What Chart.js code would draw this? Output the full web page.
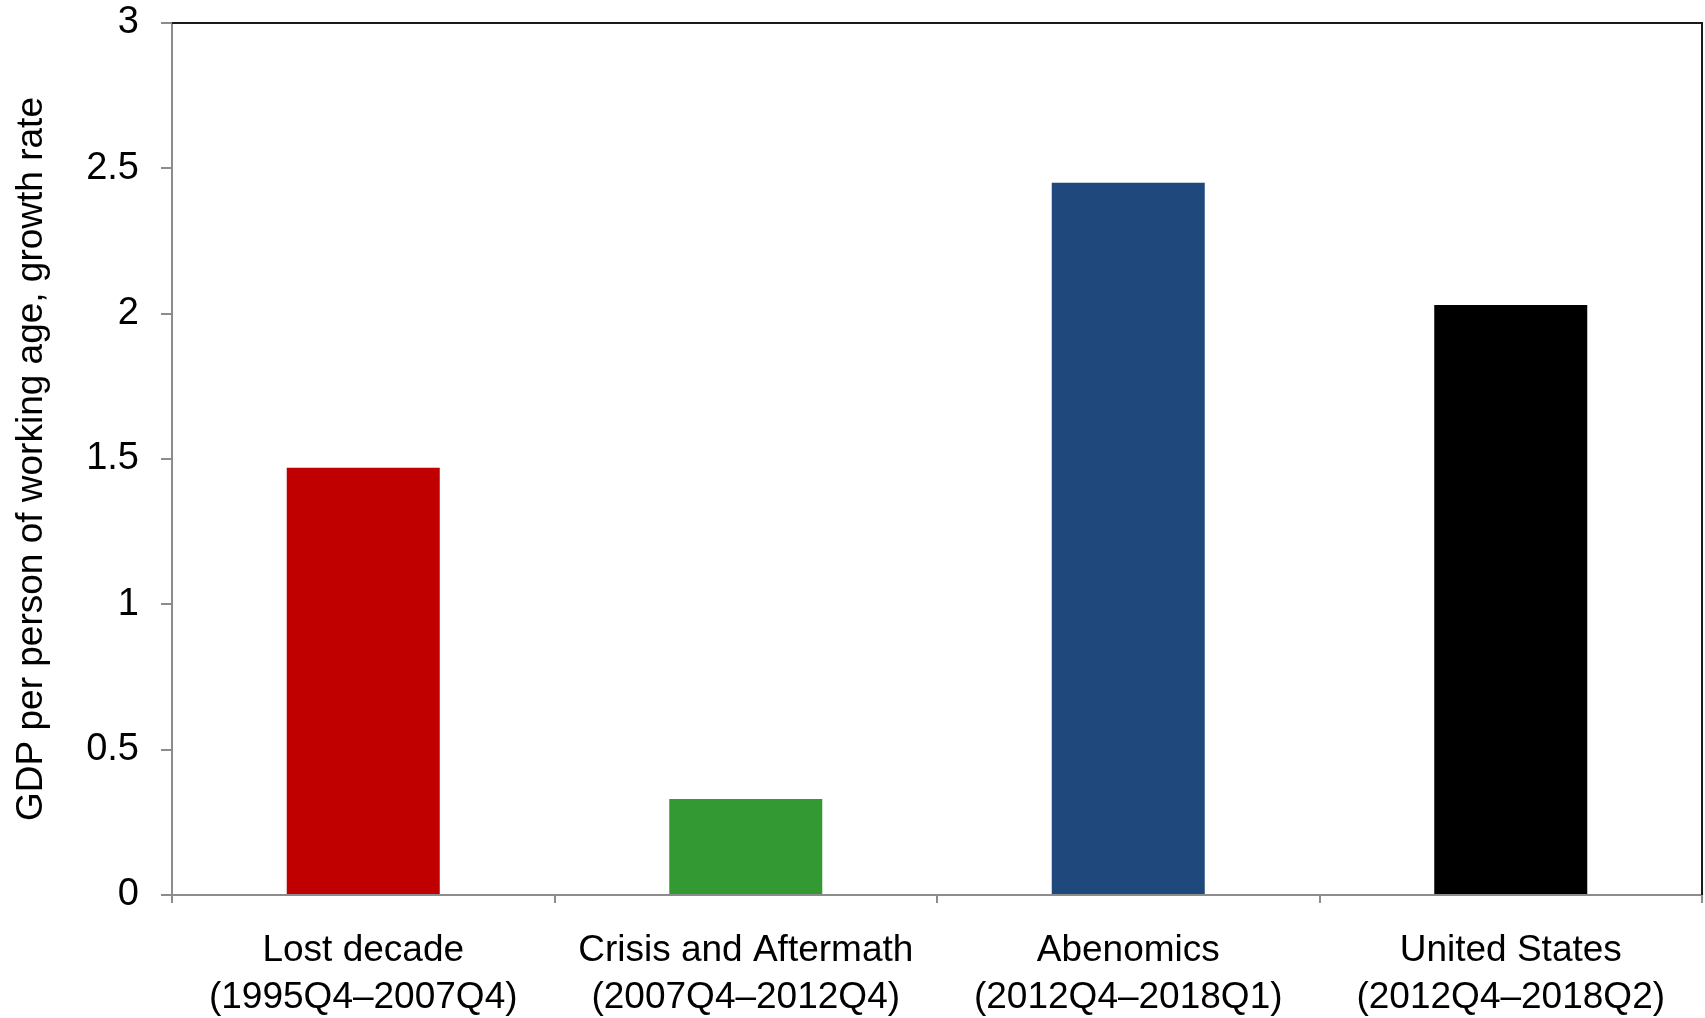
<!DOCTYPE html>
<html>
<head>
<meta charset="utf-8">
<script src="https://cdn.jsdelivr.net/npm/chart.js@4.4.1/dist/chart.umd.min.js"></script>
<style>
html,body{margin:0;padding:0;background:#fff;}
canvas{display:block;}
</style>
</head>
<body>
<canvas id="c" width="1705" height="1018"></canvas>
<script>
const categories = [
  ["Lost decade", "(1995Q4\u20132007Q4)"],
  ["Crisis and Aftermath", "(2007Q4\u20132012Q4)"],
  ["Abenomics", "(2012Q4\u20132018Q1)"],
  ["United States", "(2012Q4\u20132018Q2)"]
];
const growthValues = [1.47, 0.33, 2.45, 2.03];
const barColors = ["#C00000", "#339933", "#1F497D", "#000000"];
const yTicks = [0, 0.5, 1, 1.5, 2, 2.5, 3];
const yTitle = "GDP per person of working age, growth rate";

const FONT = "'Liberation Sans', Arial, sans-serif";
const AXIS_GREY = "#8c8c8c";

const framePlugin = {
  id: "frame",
  afterDatasetsDraw(chart) {
    const {ctx, chartArea: a} = chart;
    ctx.save();
    ctx.strokeStyle = "#1a1a1a";
    ctx.lineWidth = 2;
    ctx.beginPath();
    ctx.moveTo(a.left, a.top);
    ctx.lineTo(a.right, a.top);
    ctx.lineTo(a.right, a.bottom);
    ctx.stroke();
    ctx.restore();
  }
};

new Chart(document.getElementById("c"), {
  type: "bar",
  data: {
    labels: categories,
    datasets: [{
      data: growthValues,
      backgroundColor: barColors,
      borderWidth: 0,
      barPercentage: 0.4,
      categoryPercentage: 1.0
    }]
  },
  options: {
    responsive: false,
    animation: false,
    devicePixelRatio: 1,
    layout: { padding: { top: 23, right: 3, left: 0, bottom: 0 } },
    plugins: { legend: { display: false }, tooltip: { enabled: false } },
    scales: {
      x: {
        type: "category",
        offset: true,
        grid: {
          offset: true,
          drawOnChartArea: false,
          drawTicks: true,
          tickLength: 8,
          color: AXIS_GREY,
          lineWidth: 2
        },
        border: { display: true, color: AXIS_GREY, width: 2 },
        ticks: {
          color: "#000",
          padding: 25,
          maxRotation: 0,
          autoSkip: false,
          font: { family: FONT, size: 37, lineHeight: 1.25 }
        },
        afterFit(scale) {
          scale.height = 123;
          scale.paddingLeft = 0;
          scale.paddingRight = 0;
        }
      },
      y: {
        min: 0,
        max: 3,
        afterBuildTicks(scale) { scale.ticks = yTicks.map(v => ({ value: v })); },
        grid: {
          drawOnChartArea: false,
          drawTicks: true,
          tickLength: 11,
          color: AXIS_GREY,
          lineWidth: 2
        },
        border: { display: true, color: AXIS_GREY, width: 2 },
        ticks: {
          color: "#000",
          padding: 22,
          font: { family: FONT, size: 38, lineHeight: 1.21 },
          callback: (v) => String(v)
        },
        title: {
          display: true,
          text: yTitle,
          color: "#000",
          padding: { top: 10, bottom: 0 },
          font: { family: FONT, size: 37, lineHeight: 1.2 }
        },
        afterFit(scale) {
          scale.width = 172;
          scale.paddingTop = 0;
          scale.paddingBottom = 0;
        }
      }
    }
  },
  plugins: [framePlugin]
});
</script>
</body>
</html>
